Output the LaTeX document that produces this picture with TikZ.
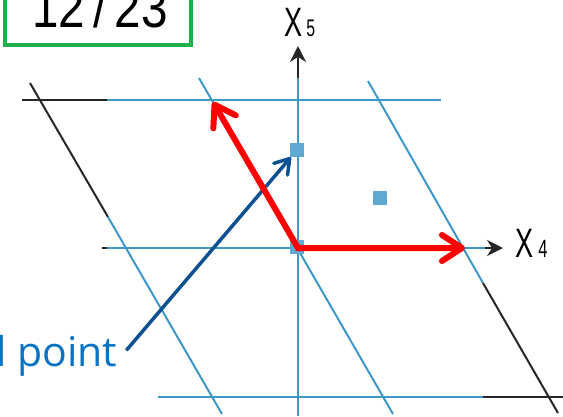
\documentclass[tikz,border=0pt]{standalone}
\usepackage{fontspec}
\usepackage{tikz}
\usepackage{xcolor}
\usetikzlibrary{arrows.meta}
\setmainfont{Liberation Sans}
\newfontfamily\labelfont{Open Sans}
\newfontfamily\axisfont[FakeStretch=0.66]{Liberation Sans}
\newfontfamily\ratiofont[FakeStretch=0.85]{Liberation Sans}
\definecolor{gridblue}{HTML}{3D97C9}
\definecolor{dotblue}{HTML}{5FA8D3}
\definecolor{pointerblue}{HTML}{0D5190}
\definecolor{textblue}{HTML}{0A72C2}
\definecolor{boxgreen}{HTML}{20B04B}
\tikzstyle{frame} = [black!85, line width=2pt]
\tikzstyle{grid} = [gridblue, line width=2pt]
\tikzstyle{dot} = [rectangle, fill=dotblue, draw=none, minimum size=14pt, inner sep=0pt]
\tikzstyle{axis} = [-{Stealth[length=16pt, width=16pt]}, black!85, line width=2pt]
\tikzstyle{basis} = [{Straight Barb[length=20pt, width=26pt, round]}-{Straight Barb[length=20pt, width=26pt, round]},
                     red, line width=6pt, line join=miter]
\tikzstyle{pointer} = [-{Straight Barb[length=14pt, width=18pt, round]}, pointerblue, line width=3.5pt]

\begin{document}
\begin{tikzpicture}[x=1pt, y=-1pt]
    \useasboundingbox (0,0) rectangle (563,416);
    \coordinate (O) at (298,248);
    \coordinate (e5) at (213,102);
    \coordinate (e4) at (465,248);

    % black frame of the big cell
    \draw[frame] (22,100) -- (107,100);
    \draw[frame] (30,83) -- (108,217);
    \draw[frame] (102,248) -- (107,248);
    \draw[frame] (483,397) -- (563,397);
    \draw[frame] (483,283) -- (558,413);

    % axes
    \draw[axis] (107,248) -- (503,248);
    \draw[axis] (298,90) -- (298,46);
    \node[anchor=base west, inner sep=0pt] (x4) at (515,257)
        {\axisfont\fontsize{41}{41}\selectfont X\hspace{5pt}{\fontsize{25}{25}\selectfont 4}};
    \node[anchor=base west, inner sep=0pt] (x5) at (284,36)
        {\axisfont\fontsize{41}{41}\selectfont X\hspace{4pt}{\fontsize{24}{24}\selectfont 5}};

    % blue grid
    \draw[grid] (107,100) -- (441,100);
    \draw[grid] (107,248) -- (485,248);
    \draw[grid] (158,397) -- (483,397);
    \draw[grid] (298,78) -- (298,416);
    \draw[grid] (108,217) -- (222,414);
    \draw[grid] (199,78) -- (393,414);
    \draw[grid] (368,81) -- (483,283);

    \node[dot] (d0) at (297,247) {};
    \node[dot] (d1) at (297,150) {};
    \node[dot] (d2) at (380,198) {};

    % label and pointer
    \node[anchor=base west, inner sep=0pt, text=textblue] (lbl) at (-4,366)
        {\labelfont\fontsize{41}{41}\selectfont l point};
    \draw[pointer] ([xshift=9pt, yshift=5pt]lbl.east) -- (d1);

    \draw[basis] (e5) -- (O) -- (e4);

    % ratio box
    \draw[boxgreen, line width=4pt] (5,-10) rectangle (191,45);
    \node[anchor=base, inner sep=0pt] (ratio) at (100,27)
        {\ratiofont\fontsize{56}{56}\selectfont 12\hspace{8pt}/\hspace{8pt}23};
\end{tikzpicture}
\end{document}
